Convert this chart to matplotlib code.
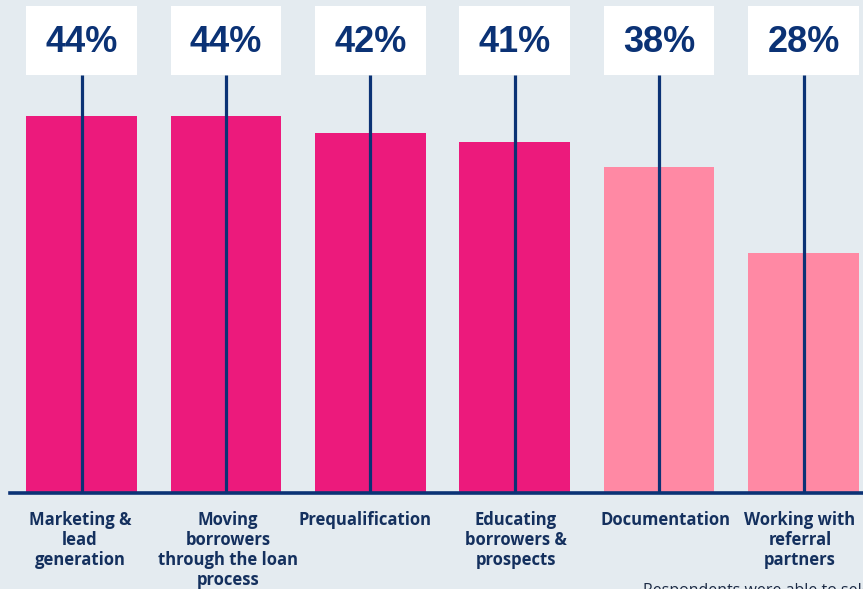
import matplotlib
matplotlib.use("Agg")
import matplotlib.pyplot as plt
from matplotlib.patches import Rectangle
from matplotlib.transforms import blended_transform_factory

# Data
categories = [
    "Marketing &\nlead\ngeneration",
    "Moving\nborrowers\nthrough the loan\nprocess",
    "Prequalification",
    "Educating\nborrowers &\nprospects",
    "Documentation",
    "Working with\nreferral\npartners",
]
values = [44, 44, 42, 41, 38, 28]
highlight = [True, True, True, True, False, False]
note = "Respondents were able to select more than one answer."

# Styling
BG = "#E4EBF0"
MAGENTA = "#EC1A7C"
PINK = "#FF89A4"
NAVY = "#0B3275"
LABEL = "#14305E"

W, H = 863, 589
fig = plt.figure(figsize=(W / 100, H / 100), dpi=100, facecolor=BG)
ax = fig.add_axes([0, 0, 1, 1], facecolor=BG)

step = 144.4          # px between bar centres
first = 81.5          # px of first bar centre
px_per_pct = 8.57
base_px = 96          # baseline height from bottom, px

ax.set_xlim(-first / step, (W - first) / step)
ax.set_ylim(-base_px / px_per_pct, (H - base_px) / px_per_pct)
ax.axis("off")

x = list(range(len(values)))
colors = [MAGENTA if h else PINK for h in highlight]
ax.bar(x, values, width=0.765, color=colors, zorder=2)

trans = blended_transform_factory(ax.transData, ax.transAxes)
base_frac = base_px / H
box_bottom = (H - 75) / H
box_top = (H - 6) / H
box_w = 0.765

for xi, v in zip(x, values):
    # leader line from the baseline up to the underside of the value box
    ax.plot([xi, xi], [base_frac, box_bottom], transform=trans,
            color=NAVY, lw=2.3, zorder=3, solid_capstyle="butt")
    ax.add_patch(Rectangle((xi - box_w / 2, box_bottom), box_w, box_top - box_bottom,
                           transform=trans, facecolor="white", edgecolor="none",
                           zorder=4))
    ax.text(xi, (H - 42) / H, f"{v}%", transform=trans, ha="center", va="center",
            fontsize=26, fontweight="bold", color=NAVY,
            family="Liberation Sans", zorder=5)

# baseline
ax.axhline(0, xmin=10 / W, xmax=1, color=NAVY, lw=2.6, zorder=4)

label_x_px = [80, 228, 365, 516, 665, 800]
for lx, lab in zip(label_x_px, categories):
    xd = (lx - first) / step
    ax.text(xd, (H - 511) / H, lab, transform=trans, ha="center", va="top",
            fontsize=12, fontweight="bold", color=LABEL, family="Open Sans",
            linespacing=1.15)

fig.text(643 / W, (H - 583) / H, note, ha="left", va="top", fontsize=11.5,
         color="#1c2a44", family="Open Sans")

fig.savefig("out.png", dpi=100, facecolor=BG)
